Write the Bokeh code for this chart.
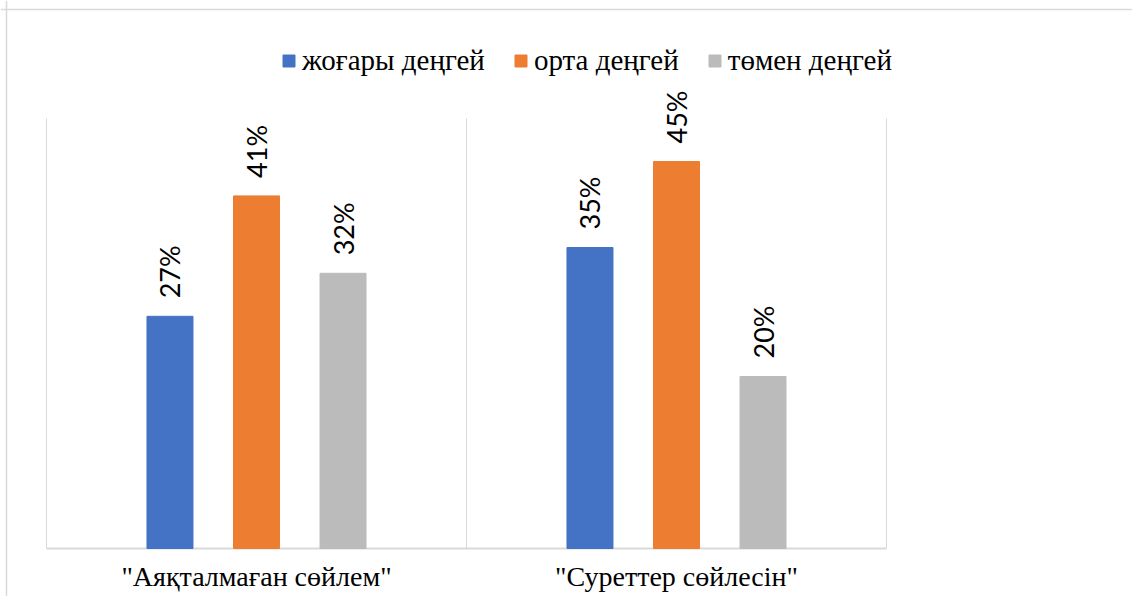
from bokeh.plotting import figure
from bokeh.models import Range1d, Span, Legend, LegendItem, ColumnDataSource
from bokeh.core.properties import value
from bokeh.embed import file_html
from bokeh.resources import INLINE

categories = ['"Аяқталмаған сөйлем"', '"Суреттер сөйлесін"']
series_names = ["жоғары деңгей", "орта деңгей", "төмен деңгей"]
high = [27, 35]
mid = [41, 45]
low = [32, 20]
colors = ["#4472C4", "#ED7D31", "#BBBBBB"]

W, H = 1132, 596
px_x = 420.0   # pixels per category
px_y = 8.6     # pixels per percent
left_px, base_px = 46, 548

p = figure(width=W, height=H, output_backend="svg", toolbar_location=None,
           x_range=Range1d(-left_px / px_x, (W - left_px) / px_x),
           y_range=Range1d(-(H - base_px) / px_y, base_px / px_y),
           min_border=0, outline_line_color=None)
p.axis.visible = False
p.grid.visible = False
p.background_fill_color = "white"
p.border_fill_color = "white"

# chart border (left and top visible)
p.add_layout(Span(location=(6 - left_px) / px_x, dimension="height", line_color="#D9D9D9", line_width=1.5))
p.add_layout(Span(location=(base_px - 9) / px_y, dimension="width", line_color="#D9D9D9", line_width=1.5))

ymax = 50
ncat = len(categories)
# category separators
p.segment(x0=list(range(ncat + 1)), y0=[0] * (ncat + 1), x1=list(range(ncat + 1)), y1=[ymax] * (ncat + 1),
          line_color="#D9D9D9", line_width=1)
p.segment(x0=[0], y0=[0], x1=[ncat], y1=[0], line_color="#D9D9D9", line_width=2)

offsets = [-0.206, 0.0, 0.206]
bw = 46 / px_x
renderers = []
for vals, off, col, name in zip([high, mid, low], offsets, colors, series_names):
    xs = [i + 0.5 + off for i in range(ncat)]
    src = ColumnDataSource(dict(x=xs, top=vals, lab=[f"{v}%" for v in vals]))
    r = p.vbar(x="x", top="top", width=bw, bottom=0, color=col, source=src)
    renderers.append((name, r))
    p.text(x="x", y="top", text="lab", source=src, angle=1.5708, y_offset=-18,
           text_align="left", text_baseline="middle", text_font=value("Lato"),
           text_font_size="27px", text_color="#000000")

# category labels
p.text(x=[i + 0.5 for i in range(ncat)], y=[0] * ncat, text=categories, y_offset=28,
       text_align="center", text_baseline="alphabetic", text_font=value("Liberation Serif"),
       text_font_size="28px", text_color="#000000")

legend = Legend(items=[LegendItem(label=n, renderers=[r]) for n, r in renderers],
                orientation="horizontal", location=(281, 519),
                glyph_width=15, glyph_height=15, label_standoff=6, spacing=28,
                padding=0, margin=0, border_line_color=None, background_fill_alpha=0,
                label_text_font="Liberation Serif", label_text_font_size="29px",
                label_text_color="#000000")
p.add_layout(legend)

open("out.html", "w").write(file_html(p, INLINE))
